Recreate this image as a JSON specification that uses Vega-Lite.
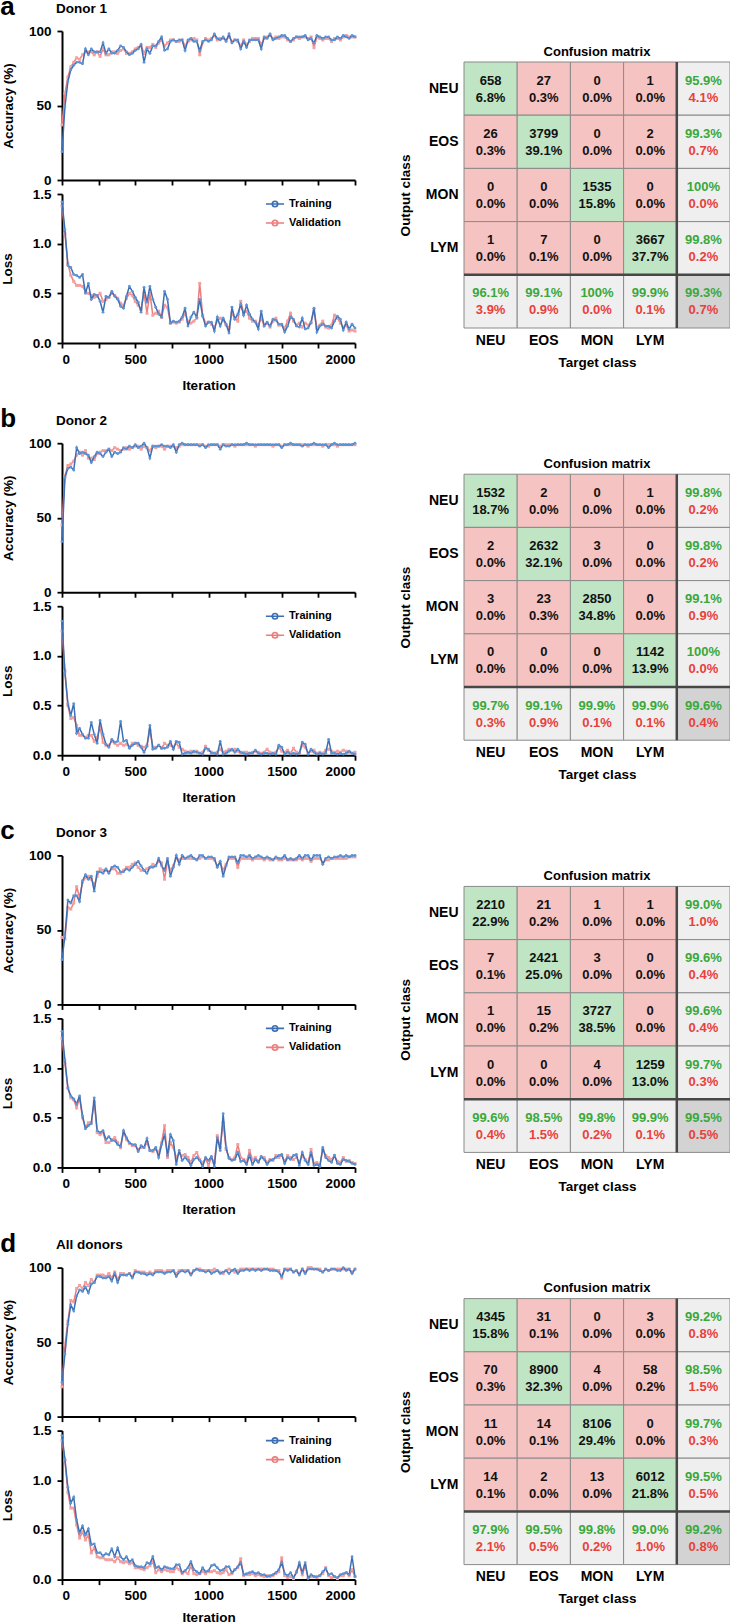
{
"$schema":"https://vega.github.io/schema/vega-lite/v6.json",
"padding":{"left":0,"top":-6,"right":0,"bottom":0},
"background":"white",
"config":{
"font":"Liberation Sans",
"view":{"stroke":null},
"axis":{"domainColor":"#000","domainWidth":2,"tickColor":"#000","tickWidth":1.8,"tickSize":5,"labelFont":"Liberation Sans","labelFontSize":13.5,"labelFontWeight":"bold","labelColor":"#000","titleFont":"Liberation Sans","titleFontSize":13.5,"titleFontWeight":"bold","titleColor":"#000","grid":false},
"axisX":{"labelPadding":4},
"axisY":{"labelPadding":6},
"title":{"font":"Liberation Sans","fontWeight":"bold","color":"#000"},
"legend":{"labelFont":"Liberation Sans","labelFontSize":11,"labelFontWeight":"bold","labelColor":"#000"}
},
"datasets":{
"d1":[
{"i":0,"at":19,"av":37,"lt":1.42,"lv":1.38},{"i":20,"at":49,"av":58,"lt":1.14,"lv":1.10},{"i":40,"at":66,"av":69,"lt":0.78,"lv":0.80},{"i":60,"at":74,"av":76,"lt":0.76,"lv":0.68},{"i":80,"at":77,"av":79,"lt":0.69,"lv":0.62},{"i":100,"at":79,"av":82,"lt":0.68,"lv":0.58},{"i":120,"at":79,"av":81,"lt":0.66,"lv":0.58},{"i":140,"at":78,"av":84,"lt":0.69,"lv":0.57},{"i":160,"at":88,"av":86,"lt":0.50,"lv":0.52},{"i":180,"at":84,"av":86,"lt":0.60,"lv":0.50},
{"i":200,"at":88,"av":86,"lt":0.44,"lv":0.48},{"i":220,"at":86,"av":84,"lt":0.49,"lv":0.46},{"i":240,"at":86,"av":86,"lt":0.48,"lv":0.47},{"i":260,"at":86,"av":83,"lt":0.42,"lv":0.50},{"i":280,"at":92,"av":88,"lt":0.31,"lv":0.42},{"i":300,"at":85,"av":84,"lt":0.47,"lv":0.44},{"i":320,"at":88,"av":84,"lt":0.46,"lv":0.46},{"i":340,"at":85,"av":86,"lt":0.52,"lv":0.50},{"i":360,"at":85,"av":86,"lt":0.47,"lv":0.48},{"i":380,"at":87,"av":85,"lt":0.44,"lv":0.45},
{"i":400,"at":90,"av":87,"lt":0.37,"lv":0.40},{"i":420,"at":89,"av":88,"lt":0.35,"lv":0.38},{"i":440,"at":86,"av":85,"lt":0.47,"lv":0.45},{"i":460,"at":84,"av":85,"lt":0.57,"lv":0.50},{"i":480,"at":85,"av":86,"lt":0.52,"lv":0.48},{"i":500,"at":87,"av":88,"lt":0.46,"lv":0.42},{"i":520,"at":88,"av":89,"lt":0.41,"lv":0.38},{"i":540,"at":91,"av":90,"lt":0.31,"lv":0.34},{"i":560,"at":79,"av":85,"lt":0.56,"lv":0.50},{"i":580,"at":88,"av":89,"lt":0.41,"lv":0.30},
{"i":600,"at":85,"av":89,"lt":0.57,"lv":0.50},{"i":620,"at":90,"av":91,"lt":0.44,"lv":0.28},{"i":640,"at":90,"av":89,"lt":0.36,"lv":0.30},{"i":660,"at":93,"av":92,"lt":0.29,"lv":0.32},{"i":680,"at":96,"av":94,"lt":0.26,"lv":0.26},{"i":700,"at":87,"av":90,"lt":0.52,"lv":0.38},{"i":720,"at":88,"av":92,"lt":0.44,"lv":0.36},{"i":740,"at":93,"av":94,"lt":0.20,"lv":0.20},{"i":760,"at":94,"av":94,"lt":0.22,"lv":0.21},{"i":780,"at":93,"av":93,"lt":0.21,"lv":0.20},
{"i":800,"at":94,"av":93,"lt":0.22,"lv":0.21},{"i":820,"at":94,"av":94,"lt":0.26,"lv":0.24},{"i":840,"at":87,"av":90,"lt":0.35,"lv":0.30},{"i":860,"at":94,"av":93,"lt":0.17,"lv":0.22},{"i":880,"at":95,"av":94,"lt":0.26,"lv":0.20},{"i":900,"at":93,"av":95,"lt":0.31,"lv":0.22},{"i":920,"at":93,"av":94,"lt":0.26,"lv":0.25},{"i":940,"at":87,"av":84,"lt":0.44,"lv":0.60},{"i":960,"at":93,"av":92,"lt":0.27,"lv":0.28},{"i":980,"at":94,"av":95,"lt":0.17,"lv":0.20},
{"i":1000,"at":93,"av":94,"lt":0.21,"lv":0.21},{"i":1020,"at":94,"av":95,"lt":0.21,"lv":0.19},{"i":1040,"at":98,"av":97,"lt":0.12,"lv":0.16},{"i":1060,"at":95,"av":94,"lt":0.26,"lv":0.22},{"i":1080,"at":94,"av":95,"lt":0.17,"lv":0.25},{"i":1100,"at":96,"av":95,"lt":0.25,"lv":0.23},{"i":1120,"at":93,"av":94,"lt":0.19,"lv":0.18},{"i":1140,"at":98,"av":96,"lt":0.10,"lv":0.15},{"i":1160,"at":92,"av":93,"lt":0.36,"lv":0.30},{"i":1180,"at":94,"av":94,"lt":0.24,"lv":0.25},
{"i":1200,"at":94,"av":93,"lt":0.29,"lv":0.22},{"i":1220,"at":88,"av":90,"lt":0.39,"lv":0.42},{"i":1240,"at":93,"av":94,"lt":0.28,"lv":0.30},{"i":1260,"at":89,"av":91,"lt":0.38,"lv":0.32},{"i":1280,"at":94,"av":93,"lt":0.29,"lv":0.25},{"i":1300,"at":94,"av":95,"lt":0.24,"lv":0.22},{"i":1320,"at":94,"av":95,"lt":0.21,"lv":0.22},{"i":1340,"at":94,"av":95,"lt":0.14,"lv":0.18},{"i":1360,"at":88,"av":91,"lt":0.32,"lv":0.25},{"i":1380,"at":96,"av":95,"lt":0.17,"lv":0.18},
{"i":1400,"at":95,"av":96,"lt":0.21,"lv":0.20},{"i":1420,"at":98,"av":97,"lt":0.17,"lv":0.16},{"i":1440,"at":94,"av":95,"lt":0.24,"lv":0.22},{"i":1460,"at":95,"av":96,"lt":0.23,"lv":0.25},{"i":1480,"at":96,"av":95,"lt":0.19,"lv":0.18},{"i":1500,"at":97,"av":96,"lt":0.19,"lv":0.18},{"i":1520,"at":97,"av":96,"lt":0.11,"lv":0.15},{"i":1540,"at":95,"av":94,"lt":0.17,"lv":0.22},{"i":1560,"at":93,"av":93,"lt":0.26,"lv":0.30},{"i":1580,"at":95,"av":94,"lt":0.24,"lv":0.22},
{"i":1600,"at":96,"av":96,"lt":0.17,"lv":0.18},{"i":1620,"at":96,"av":95,"lt":0.16,"lv":0.20},{"i":1640,"at":96,"av":96,"lt":0.25,"lv":0.16},{"i":1660,"at":97,"av":96,"lt":0.14,"lv":0.20},{"i":1680,"at":94,"av":95,"lt":0.15,"lv":0.18},{"i":1700,"at":95,"av":96,"lt":0.21,"lv":0.20},{"i":1720,"at":92,"av":89,"lt":0.35,"lv":0.34},{"i":1740,"at":97,"av":96,"lt":0.11,"lv":0.15},{"i":1760,"at":96,"av":95,"lt":0.17,"lv":0.18},{"i":1780,"at":95,"av":94,"lt":0.19,"lv":0.22},
{"i":1800,"at":96,"av":95,"lt":0.17,"lv":0.16},{"i":1820,"at":96,"av":95,"lt":0.17,"lv":0.15},{"i":1840,"at":94,"av":93,"lt":0.15,"lv":0.18},{"i":1860,"at":94,"av":95,"lt":0.22,"lv":0.28},{"i":1880,"at":96,"av":95,"lt":0.27,"lv":0.25},{"i":1900,"at":95,"av":94,"lt":0.24,"lv":0.20},{"i":1920,"at":97,"av":96,"lt":0.13,"lv":0.16},{"i":1940,"at":96,"av":97,"lt":0.21,"lv":0.18},{"i":1960,"at":95,"av":96,"lt":0.14,"lv":0.12},{"i":1980,"at":97,"av":96,"lt":0.19,"lv":0.13},
{"i":2000,"at":96,"av":96,"lt":0.15,"lv":0.12}
],
"d2":[
{"i":0,"at":34,"av":45,"lt":1.35,"lv":1.25},{"i":20,"at":77,"av":78,"lt":0.83,"lv":0.85},{"i":40,"at":83,"av":85,"lt":0.52,"lv":0.50},{"i":60,"at":84,"av":86,"lt":0.40,"lv":0.37},{"i":80,"at":82,"av":88,"lt":0.52,"lv":0.38},{"i":100,"at":97,"av":92,"lt":0.22,"lv":0.30},{"i":120,"at":93,"av":94,"lt":0.27,"lv":0.20},{"i":140,"at":94,"av":92,"lt":0.21,"lv":0.20},{"i":160,"at":93,"av":95,"lt":0.17,"lv":0.18},{"i":180,"at":92,"av":90,"lt":0.17,"lv":0.20},
{"i":200,"at":87,"av":90,"lt":0.33,"lv":0.20},{"i":220,"at":91,"av":89,"lt":0.21,"lv":0.14},{"i":240,"at":94,"av":93,"lt":0.12,"lv":0.18},{"i":260,"at":93,"av":94,"lt":0.35,"lv":0.28},{"i":280,"at":91,"av":95,"lt":0.21,"lv":0.13},{"i":300,"at":94,"av":95,"lt":0.11,"lv":0.10},{"i":320,"at":96,"av":96,"lt":0.08,"lv":0.10},{"i":340,"at":91,"av":95,"lt":0.16,"lv":0.14},{"i":360,"at":94,"av":97,"lt":0.13,"lv":0.12},{"i":380,"at":93,"av":96,"lt":0.14,"lv":0.10},
{"i":400,"at":94,"av":95,"lt":0.34,"lv":0.12},{"i":420,"at":97,"av":96,"lt":0.14,"lv":0.10},{"i":440,"at":96,"av":97,"lt":0.15,"lv":0.11},{"i":460,"at":98,"av":96,"lt":0.07,"lv":0.08},{"i":480,"at":97,"av":97,"lt":0.10,"lv":0.12},{"i":500,"at":99,"av":98,"lt":0.12,"lv":0.12},{"i":520,"at":97,"av":98,"lt":0.12,"lv":0.10},{"i":540,"at":98,"av":96,"lt":0.08,"lv":0.09},{"i":560,"at":100,"av":98,"lt":0.03,"lv":0.08},{"i":580,"at":97,"av":97,"lt":0.09,"lv":0.10},
{"i":600,"at":90,"av":95,"lt":0.30,"lv":0.25},{"i":620,"at":98,"av":98,"lt":0.06,"lv":0.08},{"i":640,"at":98,"av":97,"lt":0.07,"lv":0.08},{"i":660,"at":98,"av":98,"lt":0.10,"lv":0.10},{"i":680,"at":99,"av":98,"lt":0.07,"lv":0.07},{"i":700,"at":98,"av":96,"lt":0.07,"lv":0.12},{"i":720,"at":98,"av":98,"lt":0.08,"lv":0.10},{"i":740,"at":97,"av":98,"lt":0.14,"lv":0.10},{"i":760,"at":99,"av":98,"lt":0.06,"lv":0.08},{"i":780,"at":94,"av":97,"lt":0.14,"lv":0.12},
{"i":800,"at":99,"av":98,"lt":0.13,"lv":0.08},{"i":820,"at":100,"av":99,"lt":0.01,"lv":0.06},{"i":840,"at":99,"av":99,"lt":0.02,"lv":0.04},{"i":860,"at":99,"av":99,"lt":0.03,"lv":0.03},{"i":880,"at":99,"av":99,"lt":0.02,"lv":0.04},{"i":900,"at":99,"av":99,"lt":0.04,"lv":0.03},{"i":920,"at":99,"av":99,"lt":0.03,"lv":0.04},{"i":940,"at":98,"av":99,"lt":0.02,"lv":0.02},{"i":960,"at":99,"av":99,"lt":0.01,"lv":0.03},{"i":980,"at":97,"av":98,"lt":0.07,"lv":0.09},
{"i":1000,"at":99,"av":98,"lt":0.06,"lv":0.05},{"i":1020,"at":99,"av":99,"lt":0.02,"lv":0.03},{"i":1040,"at":99,"av":99,"lt":0.02,"lv":0.02},{"i":1060,"at":99,"av":99,"lt":0.01,"lv":0.03},{"i":1080,"at":96,"av":98,"lt":0.14,"lv":0.06},{"i":1100,"at":99,"av":99,"lt":0.01,"lv":0.03},{"i":1120,"at":98,"av":99,"lt":0.02,"lv":0.04},{"i":1140,"at":98,"av":99,"lt":0.04,"lv":0.06},{"i":1160,"at":99,"av":99,"lt":0.06,"lv":0.05},{"i":1180,"at":99,"av":98,"lt":0.03,"lv":0.06},
{"i":1200,"at":99,"av":99,"lt":0.06,"lv":0.04},{"i":1220,"at":99,"av":99,"lt":0.03,"lv":0.02},{"i":1240,"at":99,"av":99,"lt":0.02,"lv":0.03},{"i":1260,"at":100,"av":99,"lt":0.01,"lv":0.03},{"i":1280,"at":99,"av":99,"lt":0.02,"lv":0.02},{"i":1300,"at":99,"av":99,"lt":0.02,"lv":0.03},{"i":1320,"at":99,"av":98,"lt":0.05,"lv":0.04},{"i":1340,"at":99,"av":99,"lt":0.02,"lv":0.03},{"i":1360,"at":99,"av":99,"lt":0.01,"lv":0.02},{"i":1380,"at":99,"av":99,"lt":0.02,"lv":0.03},
{"i":1400,"at":99,"av":99,"lt":0.02,"lv":0.06},{"i":1420,"at":99,"av":99,"lt":0.01,"lv":0.03},{"i":1440,"at":99,"av":98,"lt":0.02,"lv":0.02},{"i":1460,"at":99,"av":99,"lt":0.01,"lv":0.03},{"i":1480,"at":99,"av":99,"lt":0.10,"lv":0.08},{"i":1500,"at":97,"av":98,"lt":0.08,"lv":0.04},{"i":1520,"at":99,"av":99,"lt":0.01,"lv":0.03},{"i":1540,"at":99,"av":99,"lt":0.03,"lv":0.05},{"i":1560,"at":100,"av":99,"lt":0.01,"lv":0.02},{"i":1580,"at":99,"av":99,"lt":0.02,"lv":0.07},
{"i":1600,"at":99,"av":99,"lt":0.01,"lv":0.03},{"i":1620,"at":99,"av":99,"lt":0.02,"lv":0.02},{"i":1640,"at":98,"av":99,"lt":0.13,"lv":0.10},{"i":1660,"at":99,"av":99,"lt":0.11,"lv":0.08},{"i":1680,"at":99,"av":98,"lt":0.01,"lv":0.02},{"i":1700,"at":99,"av":99,"lt":0.06,"lv":0.04},{"i":1720,"at":100,"av":99,"lt":0.03,"lv":0.05},{"i":1740,"at":99,"av":99,"lt":0.01,"lv":0.02},{"i":1760,"at":99,"av":99,"lt":0.02,"lv":0.03},{"i":1780,"at":99,"av":98,"lt":0.01,"lv":0.02},
{"i":1800,"at":99,"av":99,"lt":0.02,"lv":0.05},{"i":1820,"at":97,"av":99,"lt":0.16,"lv":0.06},{"i":1840,"at":99,"av":99,"lt":0.02,"lv":0.04},{"i":1860,"at":100,"av":99,"lt":0.02,"lv":0.03},{"i":1880,"at":99,"av":98,"lt":0.01,"lv":0.04},{"i":1900,"at":99,"av":99,"lt":0.02,"lv":0.03},{"i":1920,"at":99,"av":99,"lt":0.01,"lv":0.05},{"i":1940,"at":99,"av":99,"lt":0.02,"lv":0.04},{"i":1960,"at":99,"av":99,"lt":0.04,"lv":0.03},{"i":1980,"at":99,"av":99,"lt":0.02,"lv":0.02},
{"i":2000,"at":100,"av":99,"lt":0.01,"lv":0.03}
],
"d3":[
{"i":0,"at":30,"av":45,"lt":1.37,"lv":1.30},{"i":20,"at":46,"av":44,"lt":1.08,"lv":1.05},{"i":40,"at":70,"av":65,"lt":0.80,"lv":0.80},{"i":60,"at":68,"av":64,"lt":0.72,"lv":0.70},{"i":80,"at":73,"av":68,"lt":0.69,"lv":0.68},{"i":100,"at":73,"av":79,"lt":0.64,"lv":0.60},{"i":120,"at":69,"av":72,"lt":0.72,"lv":0.70},{"i":140,"at":83,"av":82,"lt":0.52,"lv":0.50},{"i":160,"at":87,"av":85,"lt":0.39,"lv":0.40},{"i":180,"at":84,"av":86,"lt":0.42,"lv":0.45},
{"i":200,"at":86,"av":84,"lt":0.44,"lv":0.45},{"i":220,"at":76,"av":80,"lt":0.70,"lv":0.66},{"i":240,"at":89,"av":86,"lt":0.37,"lv":0.35},{"i":260,"at":89,"av":91,"lt":0.35,"lv":0.33},{"i":280,"at":88,"av":90,"lt":0.37,"lv":0.35},{"i":300,"at":91,"av":90,"lt":0.28,"lv":0.25},{"i":320,"at":88,"av":89,"lt":0.31,"lv":0.25},{"i":340,"at":92,"av":91,"lt":0.27,"lv":0.28},{"i":360,"at":93,"av":91,"lt":0.27,"lv":0.30},{"i":380,"at":92,"av":88,"lt":0.23,"lv":0.25},
{"i":400,"at":89,"av":88,"lt":0.21,"lv":0.20},{"i":420,"at":89,"av":90,"lt":0.37,"lv":0.36},{"i":440,"at":91,"av":92,"lt":0.30,"lv":0.28},{"i":460,"at":90,"av":92,"lt":0.25,"lv":0.24},{"i":480,"at":92,"av":94,"lt":0.23,"lv":0.22},{"i":500,"at":94,"av":95,"lt":0.23,"lv":0.22},{"i":520,"at":96,"av":92,"lt":0.16,"lv":0.18},{"i":540,"at":93,"av":90,"lt":0.22,"lv":0.20},{"i":560,"at":90,"av":90,"lt":0.20,"lv":0.20},{"i":580,"at":88,"av":91,"lt":0.29,"lv":0.25},
{"i":600,"at":92,"av":92,"lt":0.17,"lv":0.17},{"i":620,"at":92,"av":94,"lt":0.17,"lv":0.16},{"i":640,"at":93,"av":93,"lt":0.20,"lv":0.18},{"i":660,"at":98,"av":96,"lt":0.10,"lv":0.15},{"i":680,"at":93,"av":95,"lt":0.23,"lv":0.25},{"i":700,"at":90,"av":84,"lt":0.33,"lv":0.42},{"i":720,"at":98,"av":96,"lt":0.12,"lv":0.10},{"i":740,"at":86,"av":90,"lt":0.33,"lv":0.25},{"i":760,"at":92,"av":93,"lt":0.27,"lv":0.20},{"i":780,"at":100,"av":98,"lt":0.03,"lv":0.10},
{"i":800,"at":94,"av":97,"lt":0.17,"lv":0.14},{"i":820,"at":100,"av":98,"lt":0.07,"lv":0.12},{"i":840,"at":98,"av":98,"lt":0.10,"lv":0.13},{"i":860,"at":99,"av":98,"lt":0.07,"lv":0.10},{"i":880,"at":100,"av":98,"lt":0.02,"lv":0.05},{"i":900,"at":98,"av":98,"lt":0.08,"lv":0.12},{"i":920,"at":97,"av":97,"lt":0.10,"lv":0.15},{"i":940,"at":100,"av":98,"lt":0.07,"lv":0.08},{"i":960,"at":100,"av":99,"lt":0.01,"lv":0.05},{"i":980,"at":98,"av":98,"lt":0.10,"lv":0.09},
{"i":1000,"at":99,"av":98,"lt":0.07,"lv":0.02},{"i":1020,"at":99,"av":98,"lt":0.11,"lv":0.10},{"i":1040,"at":98,"av":97,"lt":0.01,"lv":0.05},{"i":1060,"at":92,"av":93,"lt":0.30,"lv":0.32},{"i":1080,"at":96,"av":95,"lt":0.17,"lv":0.20},{"i":1100,"at":86,"av":90,"lt":0.54,"lv":0.45},{"i":1120,"at":93,"av":94,"lt":0.20,"lv":0.18},{"i":1140,"at":99,"av":98,"lt":0.09,"lv":0.10},{"i":1160,"at":99,"av":98,"lt":0.07,"lv":0.08},{"i":1180,"at":99,"av":98,"lt":0.08,"lv":0.10},
{"i":1200,"at":95,"av":92,"lt":0.15,"lv":0.23},{"i":1220,"at":100,"av":98,"lt":0.06,"lv":0.10},{"i":1240,"at":100,"av":98,"lt":0.07,"lv":0.08},{"i":1260,"at":99,"av":98,"lt":0.03,"lv":0.06},{"i":1280,"at":100,"av":98,"lt":0.12,"lv":0.17},{"i":1300,"at":98,"av":97,"lt":0.03,"lv":0.08},{"i":1320,"at":99,"av":98,"lt":0.08,"lv":0.10},{"i":1340,"at":100,"av":98,"lt":0.05,"lv":0.06},{"i":1360,"at":99,"av":98,"lt":0.11,"lv":0.10},{"i":1380,"at":98,"av":97,"lt":0.08,"lv":0.10},
{"i":1400,"at":99,"av":98,"lt":0.03,"lv":0.05},{"i":1420,"at":98,"av":97,"lt":0.07,"lv":0.08},{"i":1440,"at":97,"av":97,"lt":0.08,"lv":0.07},{"i":1460,"at":99,"av":98,"lt":0.10,"lv":0.12},{"i":1480,"at":98,"av":97,"lt":0.12,"lv":0.10},{"i":1500,"at":98,"av":97,"lt":0.13,"lv":0.12},{"i":1520,"at":100,"av":98,"lt":0.04,"lv":0.06},{"i":1540,"at":97,"av":97,"lt":0.10,"lv":0.12},{"i":1560,"at":98,"av":97,"lt":0.08,"lv":0.10},{"i":1580,"at":97,"av":97,"lt":0.12,"lv":0.08},
{"i":1600,"at":98,"av":97,"lt":0.13,"lv":0.10},{"i":1620,"at":100,"av":98,"lt":0.02,"lv":0.05},{"i":1640,"at":98,"av":97,"lt":0.15,"lv":0.12},{"i":1660,"at":100,"av":98,"lt":0.07,"lv":0.08},{"i":1680,"at":100,"av":98,"lt":0.03,"lv":0.05},{"i":1700,"at":97,"av":96,"lt":0.15,"lv":0.18},{"i":1720,"at":100,"av":98,"lt":0.02,"lv":0.04},{"i":1740,"at":100,"av":98,"lt":0.03,"lv":0.05},{"i":1760,"at":100,"av":98,"lt":0.01,"lv":0.02},{"i":1780,"at":94,"av":95,"lt":0.20,"lv":0.18},
{"i":1800,"at":98,"av":97,"lt":0.10,"lv":0.12},{"i":1820,"at":99,"av":97,"lt":0.07,"lv":0.10},{"i":1840,"at":98,"av":98,"lt":0.05,"lv":0.08},{"i":1860,"at":99,"av":98,"lt":0.12,"lv":0.12},{"i":1880,"at":99,"av":98,"lt":0.04,"lv":0.06},{"i":1900,"at":100,"av":98,"lt":0.03,"lv":0.05},{"i":1920,"at":99,"av":98,"lt":0.08,"lv":0.10},{"i":1940,"at":100,"av":98,"lt":0.07,"lv":0.06},{"i":1960,"at":99,"av":99,"lt":0.06,"lv":0.07},{"i":1980,"at":100,"av":99,"lt":0.04,"lv":0.05},
{"i":2000,"at":100,"av":99,"lt":0.03,"lv":0.04}
],
"d4":[
{"i":0,"at":23,"av":20,"lt":1.45,"lv":1.40},{"i":20,"at":42,"av":48,"lt":1.21,"lv":1.20},{"i":40,"at":62,"av":64,"lt":0.93,"lv":0.88},{"i":60,"at":75,"av":78,"lt":0.77,"lv":0.72},{"i":80,"at":71,"av":77,"lt":0.83,"lv":0.72},{"i":100,"at":81,"av":86,"lt":0.60,"lv":0.55},{"i":120,"at":85,"av":88,"lt":0.47,"lv":0.42},{"i":140,"at":84,"av":86,"lt":0.54,"lv":0.48},{"i":160,"at":87,"av":90,"lt":0.45,"lv":0.40},{"i":180,"at":83,"av":88,"lt":0.51,"lv":0.45},
{"i":200,"at":89,"av":92,"lt":0.35,"lv":0.27},{"i":220,"at":90,"av":90,"lt":0.36,"lv":0.32},{"i":240,"at":94,"av":95,"lt":0.27,"lv":0.23},{"i":260,"at":94,"av":95,"lt":0.27,"lv":0.22},{"i":280,"at":93,"av":95,"lt":0.24,"lv":0.22},{"i":300,"at":93,"av":94,"lt":0.26,"lv":0.20},{"i":320,"at":94,"av":96,"lt":0.25,"lv":0.20},{"i":340,"at":91,"av":93,"lt":0.31,"lv":0.20},{"i":360,"at":96,"av":97,"lt":0.23,"lv":0.18},{"i":380,"at":90,"av":92,"lt":0.32,"lv":0.22},
{"i":400,"at":95,"av":96,"lt":0.23,"lv":0.18},{"i":420,"at":95,"av":96,"lt":0.20,"lv":0.17},{"i":440,"at":95,"av":95,"lt":0.23,"lv":0.18},{"i":460,"at":96,"av":96,"lt":0.18,"lv":0.16},{"i":480,"at":93,"av":94,"lt":0.20,"lv":0.17},{"i":500,"at":97,"av":98,"lt":0.14,"lv":0.12},{"i":520,"at":97,"av":97,"lt":0.13,"lv":0.12},{"i":540,"at":96,"av":97,"lt":0.13,"lv":0.11},{"i":560,"at":96,"av":97,"lt":0.12,"lv":0.10},{"i":580,"at":95,"av":96,"lt":0.17,"lv":0.12},
{"i":600,"at":96,"av":97,"lt":0.16,"lv":0.14},{"i":620,"at":95,"av":96,"lt":0.23,"lv":0.18},{"i":640,"at":97,"av":98,"lt":0.12,"lv":0.07},{"i":660,"at":97,"av":98,"lt":0.13,"lv":0.10},{"i":680,"at":97,"av":98,"lt":0.10,"lv":0.08},{"i":700,"at":96,"av":97,"lt":0.13,"lv":0.10},{"i":720,"at":97,"av":98,"lt":0.12,"lv":0.09},{"i":740,"at":97,"av":98,"lt":0.11,"lv":0.08},{"i":760,"at":98,"av":98,"lt":0.11,"lv":0.08},{"i":780,"at":94,"av":96,"lt":0.15,"lv":0.12},
{"i":800,"at":97,"av":98,"lt":0.15,"lv":0.10},{"i":820,"at":98,"av":98,"lt":0.07,"lv":0.06},{"i":840,"at":97,"av":98,"lt":0.09,"lv":0.08},{"i":860,"at":98,"av":98,"lt":0.12,"lv":0.06},{"i":880,"at":95,"av":96,"lt":0.18,"lv":0.14},{"i":900,"at":98,"av":98,"lt":0.10,"lv":0.06},{"i":920,"at":99,"av":99,"lt":0.08,"lv":0.05},{"i":940,"at":98,"av":99,"lt":0.06,"lv":0.06},{"i":960,"at":98,"av":98,"lt":0.12,"lv":0.08},{"i":980,"at":97,"av":98,"lt":0.08,"lv":0.06},
{"i":1000,"at":98,"av":98,"lt":0.09,"lv":0.08},{"i":1020,"at":96,"av":98,"lt":0.14,"lv":0.08},{"i":1040,"at":97,"av":99,"lt":0.15,"lv":0.09},{"i":1060,"at":98,"av":98,"lt":0.12,"lv":0.07},{"i":1080,"at":96,"av":97,"lt":0.09,"lv":0.06},{"i":1100,"at":97,"av":96,"lt":0.10,"lv":0.07},{"i":1120,"at":98,"av":98,"lt":0.13,"lv":0.10},{"i":1140,"at":96,"av":99,"lt":0.13,"lv":0.05},{"i":1160,"at":98,"av":98,"lt":0.07,"lv":0.06},{"i":1180,"at":99,"av":97,"lt":0.10,"lv":0.10},
{"i":1200,"at":96,"av":98,"lt":0.13,"lv":0.12},{"i":1220,"at":98,"av":99,"lt":0.17,"lv":0.21},{"i":1240,"at":98,"av":99,"lt":0.05,"lv":0.04},{"i":1260,"at":99,"av":99,"lt":0.06,"lv":0.05},{"i":1280,"at":98,"av":99,"lt":0.07,"lv":0.05},{"i":1300,"at":99,"av":99,"lt":0.08,"lv":0.06},{"i":1320,"at":98,"av":99,"lt":0.06,"lv":0.04},{"i":1340,"at":99,"av":99,"lt":0.07,"lv":0.05},{"i":1360,"at":98,"av":99,"lt":0.05,"lv":0.04},{"i":1380,"at":99,"av":99,"lt":0.05,"lv":0.03},
{"i":1400,"at":99,"av":99,"lt":0.03,"lv":0.04},{"i":1420,"at":98,"av":99,"lt":0.04,"lv":0.03},{"i":1440,"at":98,"av":99,"lt":0.05,"lv":0.04},{"i":1460,"at":98,"av":98,"lt":0.07,"lv":0.06},{"i":1480,"at":97,"av":98,"lt":0.10,"lv":0.08},{"i":1500,"at":94,"av":93,"lt":0.17,"lv":0.22},{"i":1520,"at":99,"av":99,"lt":0.06,"lv":0.04},{"i":1540,"at":98,"av":99,"lt":0.04,"lv":0.02},{"i":1560,"at":99,"av":99,"lt":0.07,"lv":0.03},{"i":1580,"at":97,"av":97,"lt":0.02,"lv":0.01},
{"i":1600,"at":98,"av":98,"lt":0.07,"lv":0.08},{"i":1620,"at":95,"av":96,"lt":0.17,"lv":0.15},{"i":1640,"at":99,"av":99,"lt":0.07,"lv":0.05},{"i":1660,"at":96,"av":97,"lt":0.17,"lv":0.14},{"i":1680,"at":99,"av":100,"lt":0.01,"lv":0.02},{"i":1700,"at":99,"av":100,"lt":0.05,"lv":0.03},{"i":1720,"at":99,"av":99,"lt":0.03,"lv":0.03},{"i":1740,"at":99,"av":99,"lt":0.03,"lv":0.02},{"i":1760,"at":98,"av":99,"lt":0.04,"lv":0.04},{"i":1780,"at":97,"av":97,"lt":0.08,"lv":0.06},
{"i":1800,"at":99,"av":99,"lt":0.11,"lv":0.12},{"i":1820,"at":98,"av":98,"lt":0.05,"lv":0.04},{"i":1840,"at":99,"av":99,"lt":0.06,"lv":0.02},{"i":1860,"at":99,"av":99,"lt":0.03,"lv":0.03},{"i":1880,"at":98,"av":99,"lt":0.02,"lv":0.01},{"i":1900,"at":98,"av":99,"lt":0.05,"lv":0.04},{"i":1920,"at":100,"av":99,"lt":0.06,"lv":0.04},{"i":1940,"at":98,"av":99,"lt":0.07,"lv":0.07},{"i":1960,"at":99,"av":99,"lt":0.05,"lv":0.04},{"i":1980,"at":96,"av":97,"lt":0.23,"lv":0.10},
{"i":2000,"at":99,"av":99,"lt":0.03,"lv":0.03}
],
"m1":[
{"r":"NEU","c":"NEU","t":"d","a":"658","b":"6.8%"},{"r":"NEU","c":"EOS","t":"o","a":"27","b":"0.3%"},{"r":"NEU","c":"MON","t":"o","a":"0","b":"0.0%"},{"r":"NEU","c":"LYM","t":"o","a":"1","b":"0.0%"},{"r":"NEU","c":"All","t":"s","a":"95.9%","b":"4.1%"},
{"r":"EOS","c":"NEU","t":"o","a":"26","b":"0.3%"},{"r":"EOS","c":"EOS","t":"d","a":"3799","b":"39.1%"},{"r":"EOS","c":"MON","t":"o","a":"0","b":"0.0%"},{"r":"EOS","c":"LYM","t":"o","a":"2","b":"0.0%"},{"r":"EOS","c":"All","t":"s","a":"99.3%","b":"0.7%"},
{"r":"MON","c":"NEU","t":"o","a":"0","b":"0.0%"},{"r":"MON","c":"EOS","t":"o","a":"0","b":"0.0%"},{"r":"MON","c":"MON","t":"d","a":"1535","b":"15.8%"},{"r":"MON","c":"LYM","t":"o","a":"0","b":"0.0%"},{"r":"MON","c":"All","t":"s","a":"100%","b":"0.0%"},
{"r":"LYM","c":"NEU","t":"o","a":"1","b":"0.0%"},{"r":"LYM","c":"EOS","t":"o","a":"7","b":"0.1%"},{"r":"LYM","c":"MON","t":"o","a":"0","b":"0.0%"},{"r":"LYM","c":"LYM","t":"d","a":"3667","b":"37.7%"},{"r":"LYM","c":"All","t":"s","a":"99.8%","b":"0.2%"},
{"r":"All","c":"NEU","t":"s","a":"96.1%","b":"3.9%"},{"r":"All","c":"EOS","t":"s","a":"99.1%","b":"0.9%"},{"r":"All","c":"MON","t":"s","a":"100%","b":"0.0%"},{"r":"All","c":"LYM","t":"s","a":"99.9%","b":"0.1%"},{"r":"All","c":"All","t":"g","a":"99.3%","b":"0.7%"}
],
"m2":[
{"r":"NEU","c":"NEU","t":"d","a":"1532","b":"18.7%"},{"r":"NEU","c":"EOS","t":"o","a":"2","b":"0.0%"},{"r":"NEU","c":"MON","t":"o","a":"0","b":"0.0%"},{"r":"NEU","c":"LYM","t":"o","a":"1","b":"0.0%"},{"r":"NEU","c":"All","t":"s","a":"99.8%","b":"0.2%"},
{"r":"EOS","c":"NEU","t":"o","a":"2","b":"0.0%"},{"r":"EOS","c":"EOS","t":"d","a":"2632","b":"32.1%"},{"r":"EOS","c":"MON","t":"o","a":"3","b":"0.0%"},{"r":"EOS","c":"LYM","t":"o","a":"0","b":"0.0%"},{"r":"EOS","c":"All","t":"s","a":"99.8%","b":"0.2%"},
{"r":"MON","c":"NEU","t":"o","a":"3","b":"0.0%"},{"r":"MON","c":"EOS","t":"o","a":"23","b":"0.3%"},{"r":"MON","c":"MON","t":"d","a":"2850","b":"34.8%"},{"r":"MON","c":"LYM","t":"o","a":"0","b":"0.0%"},{"r":"MON","c":"All","t":"s","a":"99.1%","b":"0.9%"},
{"r":"LYM","c":"NEU","t":"o","a":"0","b":"0.0%"},{"r":"LYM","c":"EOS","t":"o","a":"0","b":"0.0%"},{"r":"LYM","c":"MON","t":"o","a":"0","b":"0.0%"},{"r":"LYM","c":"LYM","t":"d","a":"1142","b":"13.9%"},{"r":"LYM","c":"All","t":"s","a":"100%","b":"0.0%"},
{"r":"All","c":"NEU","t":"s","a":"99.7%","b":"0.3%"},{"r":"All","c":"EOS","t":"s","a":"99.1%","b":"0.9%"},{"r":"All","c":"MON","t":"s","a":"99.9%","b":"0.1%"},{"r":"All","c":"LYM","t":"s","a":"99.9%","b":"0.1%"},{"r":"All","c":"All","t":"g","a":"99.6%","b":"0.4%"}
],
"m3":[
{"r":"NEU","c":"NEU","t":"d","a":"2210","b":"22.9%"},{"r":"NEU","c":"EOS","t":"o","a":"21","b":"0.2%"},{"r":"NEU","c":"MON","t":"o","a":"1","b":"0.0%"},{"r":"NEU","c":"LYM","t":"o","a":"1","b":"0.0%"},{"r":"NEU","c":"All","t":"s","a":"99.0%","b":"1.0%"},
{"r":"EOS","c":"NEU","t":"o","a":"7","b":"0.1%"},{"r":"EOS","c":"EOS","t":"d","a":"2421","b":"25.0%"},{"r":"EOS","c":"MON","t":"o","a":"3","b":"0.0%"},{"r":"EOS","c":"LYM","t":"o","a":"0","b":"0.0%"},{"r":"EOS","c":"All","t":"s","a":"99.6%","b":"0.4%"},
{"r":"MON","c":"NEU","t":"o","a":"1","b":"0.0%"},{"r":"MON","c":"EOS","t":"o","a":"15","b":"0.2%"},{"r":"MON","c":"MON","t":"d","a":"3727","b":"38.5%"},{"r":"MON","c":"LYM","t":"o","a":"0","b":"0.0%"},{"r":"MON","c":"All","t":"s","a":"99.6%","b":"0.4%"},
{"r":"LYM","c":"NEU","t":"o","a":"0","b":"0.0%"},{"r":"LYM","c":"EOS","t":"o","a":"0","b":"0.0%"},{"r":"LYM","c":"MON","t":"o","a":"4","b":"0.0%"},{"r":"LYM","c":"LYM","t":"d","a":"1259","b":"13.0%"},{"r":"LYM","c":"All","t":"s","a":"99.7%","b":"0.3%"},
{"r":"All","c":"NEU","t":"s","a":"99.6%","b":"0.4%"},{"r":"All","c":"EOS","t":"s","a":"98.5%","b":"1.5%"},{"r":"All","c":"MON","t":"s","a":"99.8%","b":"0.2%"},{"r":"All","c":"LYM","t":"s","a":"99.9%","b":"0.1%"},{"r":"All","c":"All","t":"g","a":"99.5%","b":"0.5%"}
],
"m4":[
{"r":"NEU","c":"NEU","t":"d","a":"4345","b":"15.8%"},{"r":"NEU","c":"EOS","t":"o","a":"31","b":"0.1%"},{"r":"NEU","c":"MON","t":"o","a":"0","b":"0.0%"},{"r":"NEU","c":"LYM","t":"o","a":"3","b":"0.0%"},{"r":"NEU","c":"All","t":"s","a":"99.2%","b":"0.8%"},
{"r":"EOS","c":"NEU","t":"o","a":"70","b":"0.3%"},{"r":"EOS","c":"EOS","t":"d","a":"8900","b":"32.3%"},{"r":"EOS","c":"MON","t":"o","a":"4","b":"0.0%"},{"r":"EOS","c":"LYM","t":"o","a":"58","b":"0.2%"},{"r":"EOS","c":"All","t":"s","a":"98.5%","b":"1.5%"},
{"r":"MON","c":"NEU","t":"o","a":"11","b":"0.0%"},{"r":"MON","c":"EOS","t":"o","a":"14","b":"0.1%"},{"r":"MON","c":"MON","t":"d","a":"8106","b":"29.4%"},{"r":"MON","c":"LYM","t":"o","a":"0","b":"0.0%"},{"r":"MON","c":"All","t":"s","a":"99.7%","b":"0.3%"},
{"r":"LYM","c":"NEU","t":"o","a":"14","b":"0.1%"},{"r":"LYM","c":"EOS","t":"o","a":"2","b":"0.0%"},{"r":"LYM","c":"MON","t":"o","a":"13","b":"0.0%"},{"r":"LYM","c":"LYM","t":"d","a":"6012","b":"21.8%"},{"r":"LYM","c":"All","t":"s","a":"99.5%","b":"0.5%"},
{"r":"All","c":"NEU","t":"s","a":"97.9%","b":"2.1%"},{"r":"All","c":"EOS","t":"s","a":"99.5%","b":"0.5%"},{"r":"All","c":"MON","t":"s","a":"99.8%","b":"0.2%"},{"r":"All","c":"LYM","t":"s","a":"99.0%","b":"1.0%"},{"r":"All","c":"All","t":"g","a":"99.2%","b":"0.8%"}
]
},
"spacing":14.2,
"resolve":{"scale":{"color":"independent"},"legend":{"color":"independent"}},
"vconcat":[
{"title":{"text":"a","anchor":"start","frame":"bounds","fontSize":26,"offset":-39.3,"baseline":"alphabetic"},
"spacing":40,
"resolve":{"scale":{"color":"independent"},"legend":{"color":"independent"}},
"hconcat":[
{"spacing":0,
"resolve":{"scale":{"color":"independent"},"legend":{"color":"independent"}},
"vconcat":[
{"width":293,"height":149,
"title":{"text":"Donor 1","anchor":"start","frame":"group","dx":-6,"offset":-2.2,"baseline":"alphabetic","fontSize":13.5},
"data":{"name":"d1"},
"encoding":{"x":{"field":"i","type":"quantitative","scale":{"domain":[0,2000],"nice":false},"axis":{"values":[0,250,500,750,1000,1250,1500,1750,2000],"labels":false,"title":null}}},
"layer":[
{"mark":{"type":"line","color":"#ee7d7d","strokeWidth":1.5},"encoding":{"y":{"field":"av","type":"quantitative","scale":{"domain":[0,100],"nice":false},"title":"Accuracy (%)","axis":{"values":[0,25,50,75,100],"labelExpr":"datum.value % 50 === 0 ? datum.label : ''","titlePadding":13}}}},
{"mark":{"type":"square","filled":true,"size":9,"color":"#f3a0a0","opacity":1},"encoding":{"y":{"field":"av","type":"quantitative","title":"Accuracy (%)"}}},
{"mark":{"type":"line","color":"#3d6fb4","strokeWidth":1.5},"encoding":{"y":{"field":"at","type":"quantitative","title":"Accuracy (%)"}}},
{"mark":{"type":"circle","size":8,"color":"#5c95d8","opacity":1},"encoding":{"y":{"field":"at","type":"quantitative","title":"Accuracy (%)"}}}
]},
{"width":293,"height":149,
"data":{"name":"d1"},
"encoding":{"x":{"field":"i","type":"quantitative","scale":{"domain":[0,2000],"nice":false},"axis":{"values":[0,250,500,750,1000,1250,1500,1750,2000],"format":"d","labelExpr":"datum.value % 500 === 0 ? datum.label : ''","title":"Iteration","titlePadding":12.5}}},
"layer":[
{"mark":{"type":"line","strokeWidth":1.5},"encoding":{"y":{"field":"lv","type":"quantitative","scale":{"domain":[0,1.5],"nice":false},"title":"Loss","axis":{"values":[0,0.25,0.5,0.75,1,1.25,1.5],"format":".1f","labelExpr":"datum.value % 0.5 === 0 ? datum.label : ''","titlePadding":18}},"color":{"datum":"Validation","type":"nominal","scale":{"domain":["Training","Validation"],"range":["#3d6fb4","#ee7d7d"]},"legend":{"title":null,"orient":"none","legendX":203,"legendY":0,"symbolType":"M-1,0H1M-0.3,0A0.3,0.3,0,1,0,0.3,0A0.3,0.3,0,1,0,-0.3,0","symbolSize":330,"symbolStrokeWidth":1.6,"rowPadding":3,"labelOffset":4}}}},
{"mark":{"type":"square","filled":true,"size":9,"color":"#f3a0a0","opacity":1},"encoding":{"y":{"field":"lv","type":"quantitative","title":"Loss"}}},
{"mark":{"type":"line","strokeWidth":1.5},"encoding":{"y":{"field":"lt","type":"quantitative","title":"Loss"},"color":{"datum":"Training","type":"nominal"}}},
{"mark":{"type":"circle","size":8,"color":"#5c95d8","opacity":1},"encoding":{"y":{"field":"lt","type":"quantitative","title":"Loss"}}}
]}
]},
{"width":266,"height":297,
"title":{"text":"Confusion matrix","anchor":"middle","frame":"group","offset":-37.5,"baseline":"alphabetic","fontSize":13},
"data":{"name":"m1"},
"layer":[
{"mark":{"type":"rect","stroke":"#8a8a8a","strokeWidth":1},"encoding":{
"x":{"field":"c","type":"nominal","scale":{"domain":["NEU","EOS","MON","LYM","All"],"paddingInner":0,"paddingOuter":0},"axis":{"labelExpr":"datum.value === 'All' ? '' : datum.value","labelAngle":0,"title":"Target class","labelPadding":5,"titlePadding":8,"domain":false,"ticks":false,"labelFontSize":14}},
"y":{"field":"r","type":"nominal","scale":{"domain":["NEU","EOS","MON","LYM","All"],"paddingInner":0,"paddingOuter":0.2914,"align":1},"axis":{"labelExpr":"datum.value === 'All' ? '' : datum.value","title":"Output class","labelPadding":6,"titlePadding":12.5,"titleY":164,"domain":false,"ticks":false,"labelFontSize":14}},
"fill":{"field":"t","type":"nominal","scale":{"domain":["d","o","s","g"],"range":["#bfe5c4","#f5c3c1","#efefef","#d3d3d3"]},"legend":null}}},
{"data":{"values":[{}]},"mark":{"type":"rule","color":"#474747","strokeWidth":2.5},"encoding":{"x":{"datum":"All","type":"nominal","bandPosition":0},"y":{"datum":"NEU","type":"nominal","bandPosition":0},"y2":{"datum":"All","bandPosition":1}}},
{"data":{"values":[{}]},"mark":{"type":"rule","color":"#474747","strokeWidth":2.5},"encoding":{"y":{"datum":"All","type":"nominal","bandPosition":0}}},
{"mark":{"type":"text","dy":-8,"fontSize":13,"fontWeight":"bold"},"encoding":{"x":{"field":"c","type":"nominal"},"y":{"field":"r","type":"nominal"},"text":{"field":"a"},"color":{"condition":{"test":"datum.t === 's' || datum.t === 'g'","value":"#3aa83a"},"value":"#111111"}}},
{"mark":{"type":"text","dy":9,"fontSize":13,"fontWeight":"bold"},"encoding":{"x":{"field":"c","type":"nominal"},"y":{"field":"r","type":"nominal"},"text":{"field":"b"},"color":{"condition":{"test":"datum.t === 's' || datum.t === 'g'","value":"#e8413b"},"value":"#111111"}}}
]}
]},
{"title":{"text":"b","anchor":"start","frame":"bounds","fontSize":26,"offset":-39.3,"baseline":"alphabetic"},
"spacing":40,
"resolve":{"scale":{"color":"independent"},"legend":{"color":"independent"}},
"hconcat":[
{"spacing":0,
"resolve":{"scale":{"color":"independent"},"legend":{"color":"independent"}},
"vconcat":[
{"width":293,"height":149,
"title":{"text":"Donor 2","anchor":"start","frame":"group","dx":-6,"offset":-2.2,"baseline":"alphabetic","fontSize":13.5},
"data":{"name":"d2"},
"encoding":{"x":{"field":"i","type":"quantitative","scale":{"domain":[0,2000],"nice":false},"axis":{"values":[0,250,500,750,1000,1250,1500,1750,2000],"labels":false,"title":null}}},
"layer":[
{"mark":{"type":"line","color":"#ee7d7d","strokeWidth":1.5},"encoding":{"y":{"field":"av","type":"quantitative","scale":{"domain":[0,100],"nice":false},"title":"Accuracy (%)","axis":{"values":[0,25,50,75,100],"labelExpr":"datum.value % 50 === 0 ? datum.label : ''","titlePadding":13}}}},
{"mark":{"type":"square","filled":true,"size":9,"color":"#f3a0a0","opacity":1},"encoding":{"y":{"field":"av","type":"quantitative","title":"Accuracy (%)"}}},
{"mark":{"type":"line","color":"#3d6fb4","strokeWidth":1.5},"encoding":{"y":{"field":"at","type":"quantitative","title":"Accuracy (%)"}}},
{"mark":{"type":"circle","size":8,"color":"#5c95d8","opacity":1},"encoding":{"y":{"field":"at","type":"quantitative","title":"Accuracy (%)"}}}
]},
{"width":293,"height":149,
"data":{"name":"d2"},
"encoding":{"x":{"field":"i","type":"quantitative","scale":{"domain":[0,2000],"nice":false},"axis":{"values":[0,250,500,750,1000,1250,1500,1750,2000],"format":"d","labelExpr":"datum.value % 500 === 0 ? datum.label : ''","title":"Iteration","titlePadding":12.5}}},
"layer":[
{"mark":{"type":"line","strokeWidth":1.5},"encoding":{"y":{"field":"lv","type":"quantitative","scale":{"domain":[0,1.5],"nice":false},"title":"Loss","axis":{"values":[0,0.25,0.5,0.75,1,1.25,1.5],"format":".1f","labelExpr":"datum.value % 0.5 === 0 ? datum.label : ''","titlePadding":18}},"color":{"datum":"Validation","type":"nominal","scale":{"domain":["Training","Validation"],"range":["#3d6fb4","#ee7d7d"]},"legend":{"title":null,"orient":"none","legendX":203,"legendY":0,"symbolType":"M-1,0H1M-0.3,0A0.3,0.3,0,1,0,0.3,0A0.3,0.3,0,1,0,-0.3,0","symbolSize":330,"symbolStrokeWidth":1.6,"rowPadding":3,"labelOffset":4}}}},
{"mark":{"type":"square","filled":true,"size":9,"color":"#f3a0a0","opacity":1},"encoding":{"y":{"field":"lv","type":"quantitative","title":"Loss"}}},
{"mark":{"type":"line","strokeWidth":1.5},"encoding":{"y":{"field":"lt","type":"quantitative","title":"Loss"},"color":{"datum":"Training","type":"nominal"}}},
{"mark":{"type":"circle","size":8,"color":"#5c95d8","opacity":1},"encoding":{"y":{"field":"lt","type":"quantitative","title":"Loss"}}}
]}
]},
{"width":266,"height":297,
"title":{"text":"Confusion matrix","anchor":"middle","frame":"group","offset":-37.5,"baseline":"alphabetic","fontSize":13},
"data":{"name":"m2"},
"layer":[
{"mark":{"type":"rect","stroke":"#8a8a8a","strokeWidth":1},"encoding":{
"x":{"field":"c","type":"nominal","scale":{"domain":["NEU","EOS","MON","LYM","All"],"paddingInner":0,"paddingOuter":0},"axis":{"labelExpr":"datum.value === 'All' ? '' : datum.value","labelAngle":0,"title":"Target class","labelPadding":5,"titlePadding":8,"domain":false,"ticks":false,"labelFontSize":14}},
"y":{"field":"r","type":"nominal","scale":{"domain":["NEU","EOS","MON","LYM","All"],"paddingInner":0,"paddingOuter":0.2914,"align":1},"axis":{"labelExpr":"datum.value === 'All' ? '' : datum.value","title":"Output class","labelPadding":6,"titlePadding":12.5,"titleY":164,"domain":false,"ticks":false,"labelFontSize":14}},
"fill":{"field":"t","type":"nominal","scale":{"domain":["d","o","s","g"],"range":["#bfe5c4","#f5c3c1","#efefef","#d3d3d3"]},"legend":null}}},
{"data":{"values":[{}]},"mark":{"type":"rule","color":"#474747","strokeWidth":2.5},"encoding":{"x":{"datum":"All","type":"nominal","bandPosition":0},"y":{"datum":"NEU","type":"nominal","bandPosition":0},"y2":{"datum":"All","bandPosition":1}}},
{"data":{"values":[{}]},"mark":{"type":"rule","color":"#474747","strokeWidth":2.5},"encoding":{"y":{"datum":"All","type":"nominal","bandPosition":0}}},
{"mark":{"type":"text","dy":-8,"fontSize":13,"fontWeight":"bold"},"encoding":{"x":{"field":"c","type":"nominal"},"y":{"field":"r","type":"nominal"},"text":{"field":"a"},"color":{"condition":{"test":"datum.t === 's' || datum.t === 'g'","value":"#3aa83a"},"value":"#111111"}}},
{"mark":{"type":"text","dy":9,"fontSize":13,"fontWeight":"bold"},"encoding":{"x":{"field":"c","type":"nominal"},"y":{"field":"r","type":"nominal"},"text":{"field":"b"},"color":{"condition":{"test":"datum.t === 's' || datum.t === 'g'","value":"#e8413b"},"value":"#111111"}}}
]}
]},
{"title":{"text":"c","anchor":"start","frame":"bounds","fontSize":26,"offset":-39.3,"baseline":"alphabetic"},
"spacing":40,
"resolve":{"scale":{"color":"independent"},"legend":{"color":"independent"}},
"hconcat":[
{"spacing":0,
"resolve":{"scale":{"color":"independent"},"legend":{"color":"independent"}},
"vconcat":[
{"width":293,"height":149,
"title":{"text":"Donor 3","anchor":"start","frame":"group","dx":-6,"offset":-2.2,"baseline":"alphabetic","fontSize":13.5},
"data":{"name":"d3"},
"encoding":{"x":{"field":"i","type":"quantitative","scale":{"domain":[0,2000],"nice":false},"axis":{"values":[0,250,500,750,1000,1250,1500,1750,2000],"labels":false,"title":null}}},
"layer":[
{"mark":{"type":"line","color":"#ee7d7d","strokeWidth":1.5},"encoding":{"y":{"field":"av","type":"quantitative","scale":{"domain":[0,100],"nice":false},"title":"Accuracy (%)","axis":{"values":[0,25,50,75,100],"labelExpr":"datum.value % 50 === 0 ? datum.label : ''","titlePadding":13}}}},
{"mark":{"type":"square","filled":true,"size":9,"color":"#f3a0a0","opacity":1},"encoding":{"y":{"field":"av","type":"quantitative","title":"Accuracy (%)"}}},
{"mark":{"type":"line","color":"#3d6fb4","strokeWidth":1.5},"encoding":{"y":{"field":"at","type":"quantitative","title":"Accuracy (%)"}}},
{"mark":{"type":"circle","size":8,"color":"#5c95d8","opacity":1},"encoding":{"y":{"field":"at","type":"quantitative","title":"Accuracy (%)"}}}
]},
{"width":293,"height":149,
"data":{"name":"d3"},
"encoding":{"x":{"field":"i","type":"quantitative","scale":{"domain":[0,2000],"nice":false},"axis":{"values":[0,250,500,750,1000,1250,1500,1750,2000],"format":"d","labelExpr":"datum.value % 500 === 0 ? datum.label : ''","title":"Iteration","titlePadding":12.5}}},
"layer":[
{"mark":{"type":"line","strokeWidth":1.5},"encoding":{"y":{"field":"lv","type":"quantitative","scale":{"domain":[0,1.5],"nice":false},"title":"Loss","axis":{"values":[0,0.25,0.5,0.75,1,1.25,1.5],"format":".1f","labelExpr":"datum.value % 0.5 === 0 ? datum.label : ''","titlePadding":18}},"color":{"datum":"Validation","type":"nominal","scale":{"domain":["Training","Validation"],"range":["#3d6fb4","#ee7d7d"]},"legend":{"title":null,"orient":"none","legendX":203,"legendY":0,"symbolType":"M-1,0H1M-0.3,0A0.3,0.3,0,1,0,0.3,0A0.3,0.3,0,1,0,-0.3,0","symbolSize":330,"symbolStrokeWidth":1.6,"rowPadding":3,"labelOffset":4}}}},
{"mark":{"type":"square","filled":true,"size":9,"color":"#f3a0a0","opacity":1},"encoding":{"y":{"field":"lv","type":"quantitative","title":"Loss"}}},
{"mark":{"type":"line","strokeWidth":1.5},"encoding":{"y":{"field":"lt","type":"quantitative","title":"Loss"},"color":{"datum":"Training","type":"nominal"}}},
{"mark":{"type":"circle","size":8,"color":"#5c95d8","opacity":1},"encoding":{"y":{"field":"lt","type":"quantitative","title":"Loss"}}}
]}
]},
{"width":266,"height":297,
"title":{"text":"Confusion matrix","anchor":"middle","frame":"group","offset":-37.5,"baseline":"alphabetic","fontSize":13},
"data":{"name":"m3"},
"layer":[
{"mark":{"type":"rect","stroke":"#8a8a8a","strokeWidth":1},"encoding":{
"x":{"field":"c","type":"nominal","scale":{"domain":["NEU","EOS","MON","LYM","All"],"paddingInner":0,"paddingOuter":0},"axis":{"labelExpr":"datum.value === 'All' ? '' : datum.value","labelAngle":0,"title":"Target class","labelPadding":5,"titlePadding":8,"domain":false,"ticks":false,"labelFontSize":14}},
"y":{"field":"r","type":"nominal","scale":{"domain":["NEU","EOS","MON","LYM","All"],"paddingInner":0,"paddingOuter":0.2914,"align":1},"axis":{"labelExpr":"datum.value === 'All' ? '' : datum.value","title":"Output class","labelPadding":6,"titlePadding":12.5,"titleY":164,"domain":false,"ticks":false,"labelFontSize":14}},
"fill":{"field":"t","type":"nominal","scale":{"domain":["d","o","s","g"],"range":["#bfe5c4","#f5c3c1","#efefef","#d3d3d3"]},"legend":null}}},
{"data":{"values":[{}]},"mark":{"type":"rule","color":"#474747","strokeWidth":2.5},"encoding":{"x":{"datum":"All","type":"nominal","bandPosition":0},"y":{"datum":"NEU","type":"nominal","bandPosition":0},"y2":{"datum":"All","bandPosition":1}}},
{"data":{"values":[{}]},"mark":{"type":"rule","color":"#474747","strokeWidth":2.5},"encoding":{"y":{"datum":"All","type":"nominal","bandPosition":0}}},
{"mark":{"type":"text","dy":-8,"fontSize":13,"fontWeight":"bold"},"encoding":{"x":{"field":"c","type":"nominal"},"y":{"field":"r","type":"nominal"},"text":{"field":"a"},"color":{"condition":{"test":"datum.t === 's' || datum.t === 'g'","value":"#3aa83a"},"value":"#111111"}}},
{"mark":{"type":"text","dy":9,"fontSize":13,"fontWeight":"bold"},"encoding":{"x":{"field":"c","type":"nominal"},"y":{"field":"r","type":"nominal"},"text":{"field":"b"},"color":{"condition":{"test":"datum.t === 's' || datum.t === 'g'","value":"#e8413b"},"value":"#111111"}}}
]}
]},
{"title":{"text":"d","anchor":"start","frame":"bounds","fontSize":26,"offset":-39.3,"baseline":"alphabetic"},
"spacing":40,
"resolve":{"scale":{"color":"independent"},"legend":{"color":"independent"}},
"hconcat":[
{"spacing":0,
"resolve":{"scale":{"color":"independent"},"legend":{"color":"independent"}},
"vconcat":[
{"width":293,"height":149,
"title":{"text":"All donors","anchor":"start","frame":"group","dx":-6,"offset":-2.2,"baseline":"alphabetic","fontSize":13.5},
"data":{"name":"d4"},
"encoding":{"x":{"field":"i","type":"quantitative","scale":{"domain":[0,2000],"nice":false},"axis":{"values":[0,250,500,750,1000,1250,1500,1750,2000],"labels":false,"title":null}}},
"layer":[
{"mark":{"type":"line","color":"#ee7d7d","strokeWidth":1.5},"encoding":{"y":{"field":"av","type":"quantitative","scale":{"domain":[0,100],"nice":false},"title":"Accuracy (%)","axis":{"values":[0,25,50,75,100],"labelExpr":"datum.value % 50 === 0 ? datum.label : ''","titlePadding":13}}}},
{"mark":{"type":"square","filled":true,"size":9,"color":"#f3a0a0","opacity":1},"encoding":{"y":{"field":"av","type":"quantitative","title":"Accuracy (%)"}}},
{"mark":{"type":"line","color":"#3d6fb4","strokeWidth":1.5},"encoding":{"y":{"field":"at","type":"quantitative","title":"Accuracy (%)"}}},
{"mark":{"type":"circle","size":8,"color":"#5c95d8","opacity":1},"encoding":{"y":{"field":"at","type":"quantitative","title":"Accuracy (%)"}}}
]},
{"width":293,"height":149,
"data":{"name":"d4"},
"encoding":{"x":{"field":"i","type":"quantitative","scale":{"domain":[0,2000],"nice":false},"axis":{"values":[0,250,500,750,1000,1250,1500,1750,2000],"format":"d","labelExpr":"datum.value % 500 === 0 ? datum.label : ''","title":"Iteration","titlePadding":8.5}}},
"layer":[
{"mark":{"type":"line","strokeWidth":1.5},"encoding":{"y":{"field":"lv","type":"quantitative","scale":{"domain":[0,1.5],"nice":false},"title":"Loss","axis":{"values":[0,0.25,0.5,0.75,1,1.25,1.5],"format":".1f","labelExpr":"datum.value % 0.5 === 0 ? datum.label : ''","titlePadding":18}},"color":{"datum":"Validation","type":"nominal","scale":{"domain":["Training","Validation"],"range":["#3d6fb4","#ee7d7d"]},"legend":{"title":null,"orient":"none","legendX":203,"legendY":0,"symbolType":"M-1,0H1M-0.3,0A0.3,0.3,0,1,0,0.3,0A0.3,0.3,0,1,0,-0.3,0","symbolSize":330,"symbolStrokeWidth":1.6,"rowPadding":3,"labelOffset":4}}}},
{"mark":{"type":"square","filled":true,"size":9,"color":"#f3a0a0","opacity":1},"encoding":{"y":{"field":"lv","type":"quantitative","title":"Loss"}}},
{"mark":{"type":"line","strokeWidth":1.5},"encoding":{"y":{"field":"lt","type":"quantitative","title":"Loss"},"color":{"datum":"Training","type":"nominal"}}},
{"mark":{"type":"circle","size":8,"color":"#5c95d8","opacity":1},"encoding":{"y":{"field":"lt","type":"quantitative","title":"Loss"}}}
]}
]},
{"width":266,"height":297,
"title":{"text":"Confusion matrix","anchor":"middle","frame":"group","offset":-37.5,"baseline":"alphabetic","fontSize":13},
"data":{"name":"m4"},
"layer":[
{"mark":{"type":"rect","stroke":"#8a8a8a","strokeWidth":1},"encoding":{
"x":{"field":"c","type":"nominal","scale":{"domain":["NEU","EOS","MON","LYM","All"],"paddingInner":0,"paddingOuter":0},"axis":{"labelExpr":"datum.value === 'All' ? '' : datum.value","labelAngle":0,"title":"Target class","labelPadding":5,"titlePadding":8,"domain":false,"ticks":false,"labelFontSize":14}},
"y":{"field":"r","type":"nominal","scale":{"domain":["NEU","EOS","MON","LYM","All"],"paddingInner":0,"paddingOuter":0.2914,"align":1},"axis":{"labelExpr":"datum.value === 'All' ? '' : datum.value","title":"Output class","labelPadding":6,"titlePadding":12.5,"titleY":164,"domain":false,"ticks":false,"labelFontSize":14}},
"fill":{"field":"t","type":"nominal","scale":{"domain":["d","o","s","g"],"range":["#bfe5c4","#f5c3c1","#efefef","#d3d3d3"]},"legend":null}}},
{"data":{"values":[{}]},"mark":{"type":"rule","color":"#474747","strokeWidth":2.5},"encoding":{"x":{"datum":"All","type":"nominal","bandPosition":0},"y":{"datum":"NEU","type":"nominal","bandPosition":0},"y2":{"datum":"All","bandPosition":1}}},
{"data":{"values":[{}]},"mark":{"type":"rule","color":"#474747","strokeWidth":2.5},"encoding":{"y":{"datum":"All","type":"nominal","bandPosition":0}}},
{"mark":{"type":"text","dy":-8,"fontSize":13,"fontWeight":"bold"},"encoding":{"x":{"field":"c","type":"nominal"},"y":{"field":"r","type":"nominal"},"text":{"field":"a"},"color":{"condition":{"test":"datum.t === 's' || datum.t === 'g'","value":"#3aa83a"},"value":"#111111"}}},
{"mark":{"type":"text","dy":9,"fontSize":13,"fontWeight":"bold"},"encoding":{"x":{"field":"c","type":"nominal"},"y":{"field":"r","type":"nominal"},"text":{"field":"b"},"color":{"condition":{"test":"datum.t === 's' || datum.t === 'g'","value":"#e8413b"},"value":"#111111"}}}
]}
]}
]
}
